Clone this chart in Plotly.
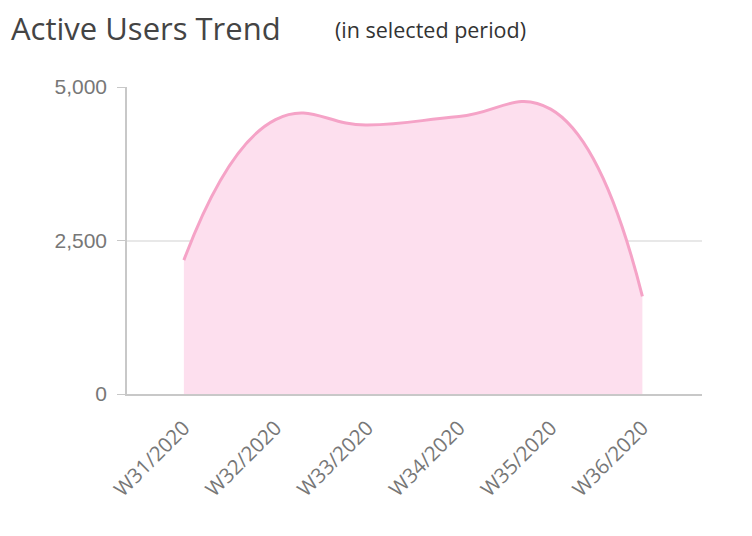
import plotly.graph_objects as go

weeks = ["W31/2020", "W32/2020", "W33/2020", "W34/2020", "W35/2020", "W36/2020"]
active_users = [2180, 4470, 4380, 4520, 4640, 1590]
y_ticks = [0, 2500, 5000]
y_tick_labels = ["0", "2,500", "5,000"]

W, H = 744, 528
L, R, T, B = 119, 50, 79, 142
PW, PH = W - L - R, H - T - B


def px_to_paper(px, py):
    # px, py in screenshot pixels (page has 8px offset)
    return (px - 8 - L) / PW, 1 + (T - (py - 8)) / PH


fig = go.Figure()
fig.add_trace(go.Scatter(
    x=list(range(len(weeks))), y=active_users,
    mode="lines", line=dict(color="#F5A3C7", width=3, shape="spline", smoothing=1.3),
    fill="tozeroy", fillcolor="#FDDFEE", hoverinfo="skip",
))

fig.update_layout(
    width=W, height=H,
    margin=dict(l=L, r=R, t=T, b=B),
    paper_bgcolor="white", plot_bgcolor="white",
    showlegend=False,
    font=dict(family="Open Sans", color="#777777"),
)
tx, ty = px_to_paper(9, 28)
fig.add_annotation(text="Active Users Trend", x=tx, y=ty, xref="paper", yref="paper",
                   xanchor="left", yanchor="middle", showarrow=False,
                   font=dict(family="Open Sans", size=31, color="#444444"))
sx, sy = px_to_paper(333, 30)
fig.add_annotation(text="(in selected period)", x=sx, y=sy, xref="paper", yref="paper",
                   xanchor="left", yanchor="middle", showarrow=False,
                   font=dict(family="Open Sans", size=21.5, color="#333333"))

fig.update_xaxes(
    range=[-0.62, 5.65], tickmode="array", tickvals=list(range(len(weeks))), ticktext=weeks,
    tickangle=-45, showgrid=False, showline=True, linecolor="#C8C8C8", linewidth=1.5,
    ticks="", ticklabelstandoff=12,
    tickfont=dict(family="Open Sans", size=20.5, color="#777777"), zeroline=False,
)
fig.update_yaxes(
    range=[0, 5000], tickmode="array", tickvals=y_ticks, ticktext=y_tick_labels,
    showgrid=True, gridcolor="#E8E8E8", gridwidth=1.5, showline=True, linecolor="#C8C8C8", linewidth=1.5,
    ticks="outside", ticklen=8, tickcolor="#C8C8C8", ticklabelstandoff=6,
    tickfont=dict(family="Liberation Sans", size=21, color="#777777"), zeroline=False,
)
fig.write_html("out.html")
